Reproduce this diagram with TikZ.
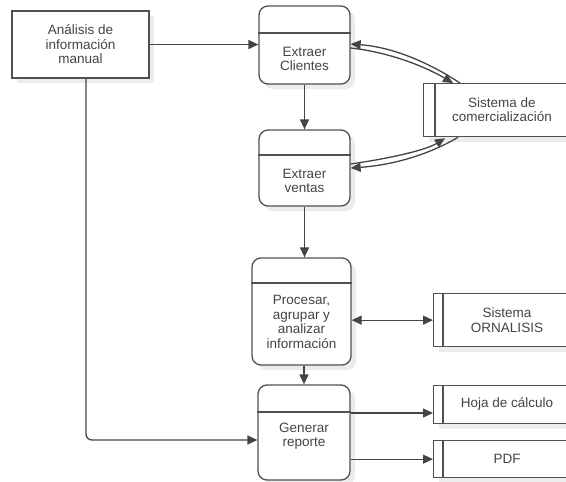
\documentclass[tikz,border=0pt]{standalone}
\usepackage{fontspec}
\setmainfont{Liberation Sans}
\usetikzlibrary{arrows.meta,calc,shadows}
\definecolor{ln}{HTML}{505050}
\definecolor{tx}{HTML}{444444}
\definecolor{sh}{HTML}{ECECEC}
\begin{document}
\begin{tikzpicture}[x=1pt,y=-1pt,
  every node/.style={font=\fontsize{13.5}{14.5}\selectfont, text=tx},
  boxshadow/.style={drop shadow={shadow xshift=5pt,shadow yshift=-5pt,fill=sh,opacity=1}},
  entity/.style={draw=ln, line width=1.3pt, rectangle, fill=white, boxshadow, inner sep=0pt, align=center},
  proc/.style={draw=ln, line width=1.3pt, rounded corners=9pt, fill=white, boxshadow, inner sep=0pt},
  store/.style={draw=ln, line width=1.3pt, fill=white, boxshadow, inner sep=0pt},
  divider/.style={draw=ln, line width=1.3pt},
  lbl/.style={align=center, inner sep=0pt},
  arr/.style={draw=ln!85!black, line width=1.3pt, -{Triangle[length=10pt,width=9pt]}},
]
\clip (0,0) rectangle (566,482);
\fill[white] (0,0) rectangle (566,482);

% external entity
\node[entity, minimum width=137pt, minimum height=67pt] (A) at (80.5,44.5) {Análisis de\\información\\manual};

% processes
\node[proc, minimum width=91pt, minimum height=78pt] (P1) at (304.5,45) {};
\draw[divider] (P1.west |- 0,33) -- (P1.east |- 0,33);
\node[lbl] (P1t) at (304.5,59) {Extraer\\Clientes};

\node[proc, minimum width=91pt, minimum height=76pt] (P2) at (304.5,168) {};
\draw[divider] (P2.west |- 0,155) -- (P2.east |- 0,155);
\node[lbl] (P2t) at (304.5,181) {Extraer\\ventas};

\node[proc, minimum width=99pt, minimum height=107pt] (P3) at (301.5,311.5) {};
\draw[divider] (P3.west |- 0,283) -- (P3.east |- 0,283);
\node[lbl] (P3t) at (301.5,322) {Procesar,\\agrupar y\\analizar\\información};

\node[proc, minimum width=92pt, minimum height=95pt] (P4) at (304,432.5) {};
\draw[divider] (P4.west |- 0,412) -- (P4.east |- 0,412);
\node[lbl] (P4t) at (304,436) {Generar\\reporte};

% data stores
\node[store, minimum width=149pt, minimum height=53pt, anchor=north west] (S1) at (423,83) {};
\draw[divider] ($(S1.north west)+(12,0)$) -- ($(S1.south west)+(12,0)$);
\node[lbl] (S1t) at (502,109.5) {Sistema de\\comercialización};

\node[store, minimum width=140pt, minimum height=53pt, anchor=north west] (S2) at (433,293) {};
\draw[divider] ($(S2.north west)+(10,0)$) -- ($(S2.south west)+(10,0)$);
\node[lbl] (S2t) at (507,320) {Sistema\\ORNALISIS};

\node[store, minimum width=140pt, minimum height=38pt, anchor=north west] (S3) at (433,385) {};
\draw[divider] ($(S3.north west)+(10,0)$) -- ($(S3.south west)+(10,0)$);
\node[lbl] (S3t) at (507,404) {Hoja de cálculo};

\node[store, minimum width=140pt, minimum height=37pt, anchor=north west] (S4) at (433,440) {};
\draw[divider] ($(S4.north west)+(10,0)$) -- ($(S4.south west)+(10,0)$);
\node[lbl] (S4t) at (507,458.5) {PDF};

% connectors
\draw[arr] (A.east) -- (A.east -| P1.west);
\draw[arr] (P1.south) -- (P2.north);
\draw[arr] (P2.south) -- (P2.south |- P3.north);
\draw[arr] (P3.south -| P4.north) -- (P4.north);
\draw[arr, {Triangle[length=10pt,width=9pt]}-{Triangle[length=10pt,width=9pt]}] (P3.east |- S2.west) -- (S2.west);
\draw[arr] (P4.east |- 0,413) -- (S3.west |- 0,413);
\draw[arr] (P4.east |- S4.west) -- (S4.west);
\draw[arr, rounded corners=6pt] ($(A.south)+(5.5,0)$) |- (P4.west |- 0,440);

% curved flows with Sistema de comercialización
\draw[arr] ($(S1.north west)+(37,0)$) .. controls (428,62) and (392,47) .. ($(P1.east)+(0,-1)$);
\draw[arr] ($(P1.east)+(0,3)$) .. controls (388,52) and (424,66) .. ($(S1.north west)+(30,0)$);
\draw[arr] ($(P2.east)+(0,-4)$) .. controls (392,158) and (426,150) .. ($(S1.south west)+(22,1)$);
\draw[arr] ($(S1.south west)+(35,0)$) .. controls (430,154) and (394,165) .. (P2.east);
\end{tikzpicture}
\end{document}
